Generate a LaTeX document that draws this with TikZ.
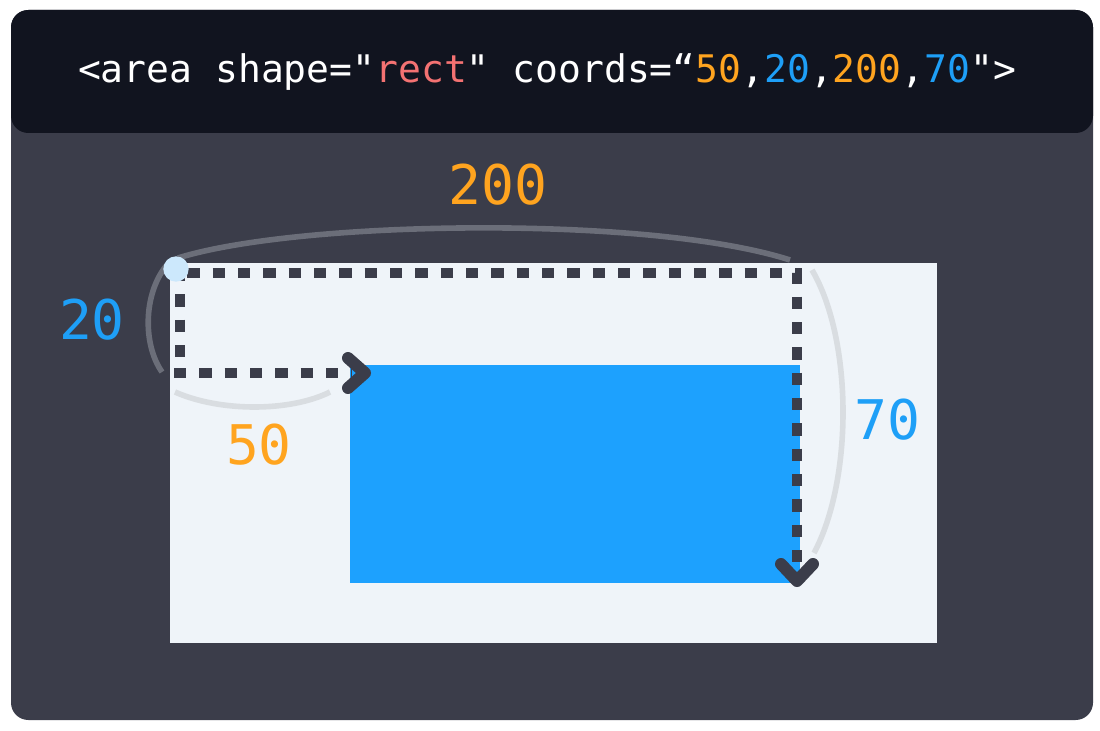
\documentclass[tikz,border=0pt]{standalone}
\usepackage{fontspec}
\newfontfamily\codefont{DejaVu Sans Mono}
\usetikzlibrary{calc}
\definecolor{pagebg}{HTML}{FFFFFF}
\definecolor{panel}{HTML}{3B3D4A}
\definecolor{header}{HTML}{11141F}
\definecolor{canvas}{HTML}{EFF4F9}
\definecolor{areablue}{HTML}{1DA1FE}
\definecolor{numorange}{HTML}{FFA41F}
\definecolor{numblue}{HTML}{1E9FF7}
\definecolor{salmon}{HTML}{F47272}
\definecolor{dotblue}{HTML}{CCE8FC}
\definecolor{arcdark}{HTML}{6B6E79}
\definecolor{arclight}{HTML}{D9DDE1}
\tikzset{
  dashline/.style={draw=panel, line width=7pt, dash pattern=on 9.3pt off 9.7pt},
  chevron/.style={draw=panel, line width=9pt, line cap=round, line join=round},
  arcdk/.style={draw=arcdark, line width=4.2pt},
  arclt/.style={draw=arclight, line width=4.2pt},
  numlabel/.style={font=\codefont\fontsize{41}{41}\selectfont, inner sep=0pt},
}
\begin{document}
\begin{tikzpicture}[x=0.75pt,y=-0.75pt]
\useasboundingbox (0,0) rectangle (1100,731);
\fill[pagebg] (0,0) rectangle (1100,731);
% panels
\fill[panel, rounded corners=13pt] (11,10) rectangle (1093,720);
\fill[header, rounded corners=13pt] (11,10) rectangle (1093,133);
\node[anchor=base, inner sep=0pt, text=white, font=\codefont\fontsize{28.5}{28.5}\selectfont] (code) at (547,83)
  {<area shape=\char"22\textcolor{salmon}{rect}\char"22{} coords=“\textcolor{numorange}{50},\textcolor{numblue}{20},\textcolor{numorange}{200},\textcolor{numblue}{70}\char"22>};
% canvas and area
\fill[canvas] (170,263) rectangle (937,643);
\fill[areablue] (350,365) rectangle (800,583);
% coordinates
\coordinate (origin) at (180,273);
\coordinate (topright) at (797,273);
\coordinate (xend) at (352,373);
\coordinate (xtip) at (365,373);
\coordinate (yend) at (797,565);
\coordinate (ytip) at (797,581);
% dashed paths
\draw[dashline, dash phase=13.5pt] (origin) -- (topright) -- (yend);
\draw[dashline, dash phase=3pt] (origin) -- (180,360);
\draw[dashline] (174,373) -- (xend);
% chevrons
\draw[chevron] ($(xtip)+(-17,-15)$) -- (xtip) -- ($(xtip)+(-17,15)$);
\draw[chevron] ($(ytip)+(-16,-17)$) -- (ytip) -- ($(ytip)+(16,-17)$);
% arcs
\draw[arcdk] (178,258) .. controls (300,220) and (650,215) .. (790,260);
\draw[arcdk] (166,266) .. controls (143,295) and (143,345) .. (162,372);
\draw[arclt] (175,392) .. controls (220,412) and (290,412) .. (330,392);
\draw[arclt] (812,270) .. controls (853,340) and (853,480) .. (814,553);
% origin dot
\fill[dotblue] (176,269) circle[radius=9.5pt];
% labels
\node[numlabel, text=numorange] (l200) at (498,185) {200};
\node[numlabel, text=numblue] (l20) at (92,320) {20};
\node[numlabel, text=numorange] (l50) at (259,445) {50};
\node[numlabel, text=numblue] (l70) at (887,420) {70};
\end{tikzpicture}
\end{document}
